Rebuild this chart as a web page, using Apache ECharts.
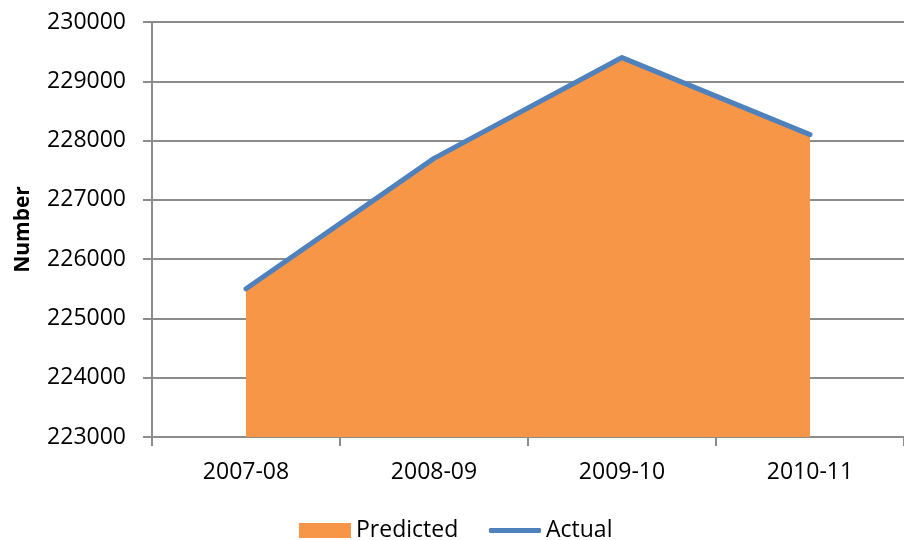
<!DOCTYPE html>
<html>
<head>
<meta charset="utf-8">
<style>
  html, body { margin: 0; padding: 0; background: #ffffff; }
  #chart { width: 904px; height: 540px; }
</style>
<script src="https://cdn.jsdelivr.net/npm/echarts@6/dist/echarts.min.js"></script>
</head>
<body>
<div id="chart"></div>
<script>
// Financial years on the category axis
const years = ['2007-08', '2008-09', '2009-10', '2010-11'];
// Predicted totals (filled area)
const predicted = [225500, 227700, 229400, 228100];
// Actual totals (line)
const actual = [225500, 227700, 229400, 228100];
// Value axis range
const yMin = 223000;
const yMax = 230000;
const yStep = 1000;

const FONT = '"Open Sans", "DejaVu Sans", sans-serif';
const GREY = '#8c8c8c';
const ORANGE = '#f79646';
const BLUE = '#4f81bd';

const chart = echarts.init(document.getElementById('chart'), null, { renderer: 'canvas' });

chart.setOption({
  animation: false,
  backgroundColor: '#ffffff',
  grid: { left: 152, right: 0, top: 22, bottom: 103, containLabel: false },
  legend: [
    {
      data: [{ name: 'Predicted', icon: 'rect' }],
      left: 299, top: 519,
      itemWidth: 52, itemHeight: 15,
      textStyle: { fontFamily: FONT, fontSize: 23, color: '#000' },
      itemGap: 0, padding: 0
    },
    {
      data: [{ name: 'Actual', icon: 'roundRect', itemStyle: { color: BLUE } }],
      left: 489, top: 519,
      itemWidth: 52, itemHeight: 5,
      textStyle: { fontFamily: FONT, fontSize: 23, color: '#000' },
      itemGap: 0, padding: 0
    }
  ],
  xAxis: {
    type: 'category',
    data: years,
    boundaryGap: true,
    axisLine: { show: true, lineStyle: { color: GREY, width: 2 } },
    axisTick: { show: true, length: 9, alignWithLabel: false, lineStyle: { color: GREY, width: 2 } },
    axisLabel: { fontFamily: FONT, fontSize: 23, color: '#000', margin: 24 },
    splitLine: { show: false }
  },
  yAxis: {
    type: 'value',
    min: yMin, max: yMax, interval: yStep,
    name: 'Number',
    nameLocation: 'middle',
    nameGap: 118,
    nameRotate: 90,
    nameTextStyle: { fontFamily: FONT, fontSize: 21, fontWeight: 'bold', color: '#000' },
    axisLine: { show: true, lineStyle: { color: GREY, width: 2 } },
    axisTick: { show: true, length: 9, lineStyle: { color: GREY, width: 2 } },
    axisLabel: {
      fontFamily: FONT, fontSize: 23, color: '#000', margin: 26,
      formatter: function (v) { return String(v); }
    },
    splitLine: { show: true, lineStyle: { color: GREY, width: 2 } }
  },
  series: [
    {
      name: 'Predicted',
      type: 'line',
      data: predicted,
      symbol: 'none',
      itemStyle: { color: ORANGE },
      lineStyle: { width: 0, color: ORANGE },
      areaStyle: { color: ORANGE, opacity: 1, origin: 'start' },
      z: 2
    },
    {
      name: 'Actual',
      type: 'line',
      data: actual,
      symbol: 'none',
      itemStyle: { color: BLUE },
      lineStyle: { width: 5, color: BLUE, cap: 'round', join: 'round' },
      z: 3
    }
  ]
});
</script>
</body>
</html>
